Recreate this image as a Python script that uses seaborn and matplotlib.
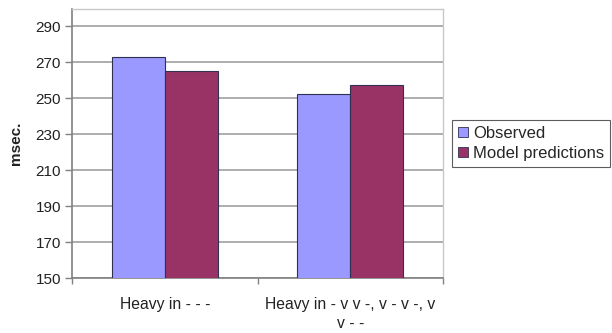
import matplotlib
matplotlib.use("Agg")
import matplotlib.pyplot as plt
import seaborn as sns
import pandas as pd
from matplotlib.patches import Patch

categories = ["Heavy in - - -", "Heavy in - v v -, v - v -, v\nv - -"]
series = ["Observed", "Model predictions"]
observed = [273, 252.5]
model = [265, 257.5]
yticks = [150, 170, 190, 210, 230, 250, 270, 290]

df = pd.DataFrame({
    "category": categories * 2,
    "series": [series[0]] * 2 + [series[1]] * 2,
    "value": observed + model,
})

sns.set_theme(style="white")
plt.rcParams["font.family"] = ["Liberation Sans", "DejaVu Sans"]

colors = ["#9999FF", "#993366"]
fig = plt.figure(figsize=(6.12, 3.33), dpi=100)
ax = fig.add_axes([72/612, 55/333, (443-72)/612, (278-8.5)/333])

sns.barplot(data=df, x="category", y="value", hue="series", palette=colors,
            saturation=1, width=0.572, ax=ax, edgecolor="#303050", linewidth=0.8,
            legend=False, zorder=3)

ax.set_ylim(150, 300)
ax.set_xlim(-0.5, 1.5)
ax.set_yticks(yticks)
ax.set_yticklabels([str(t) for t in yticks], fontsize=11, color="#222222")
ax.grid(axis="y", color="#a0a0a0", linewidth=1.2, zorder=0)
ax.set_axisbelow(True)

ax.set_xticks([0, 1])
ax.set_xticklabels(categories, fontsize=11.3, color="#222222", linespacing=1.3)
ax.tick_params(axis="x", which="major", length=0, pad=14)
ax.set_xticks([-0.5, 0.5, 1.5], minor=True)
ax.tick_params(axis="x", which="minor", length=4, color="#808080", width=1, direction="out", bottom=True)
ax.tick_params(axis="y", which="major", length=5, color="#808080", width=1, direction="out", left=True, pad=3)

ax.set_xlabel("")
ax.set_ylabel("msec.", fontsize=11, fontweight="bold", color="#222222", labelpad=9)

for side in ["left", "bottom"]:
    ax.spines[side].set_color("#808080")
    ax.spines[side].set_linewidth(1.2)
for side in ["top", "right"]:
    ax.spines[side].set_visible(True)
    ax.spines[side].set_color("#c8c8c8")
    ax.spines[side].set_linewidth(1.0)

handles = [Patch(facecolor=c, edgecolor="#303050", linewidth=0.6) for c in colors]
leg = fig.legend(handles, series, loc="upper left",
                 bbox_to_anchor=(452/612, 1 - 120/333), fontsize=12,
                 frameon=True, fancybox=False, handlelength=0.6, handleheight=0.6,
                 handletextpad=0.3, borderpad=0.35, labelspacing=0.3, borderaxespad=0)
leg.get_frame().set_edgecolor("#333333")
leg.get_frame().set_linewidth(0.8)

fig.savefig("out.png", dpi=100)
